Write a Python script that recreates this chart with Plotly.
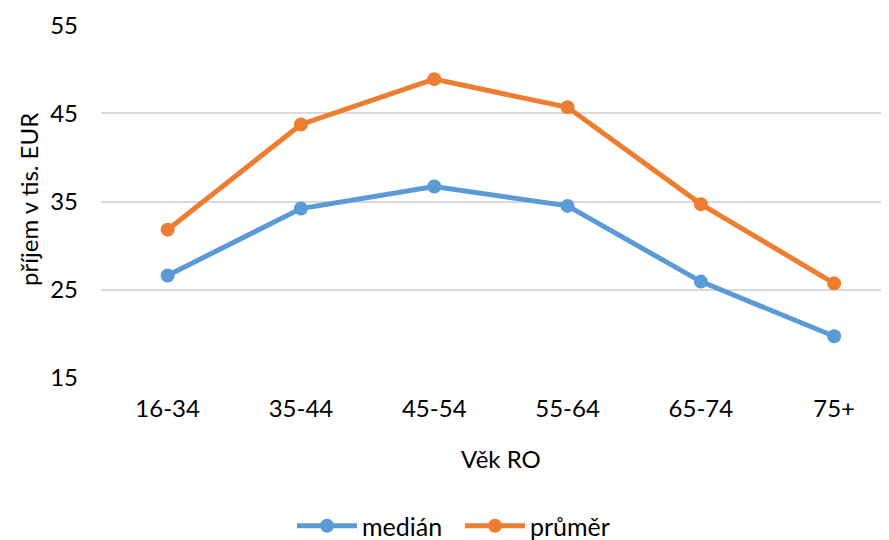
import plotly.graph_objects as go

categories = ["16-34", "35-44", "45-54", "55-64", "65-74", "75+"]
median_vals = [26.6, 34.2, 36.7, 34.5, 25.9, 19.7]
mean_vals = [31.8, 43.75, 48.9, 45.7, 34.7, 25.7]
y_ticks = [15, 25, 35, 45, 55]

FONT = "Lato"
O = 8  # default page body margin offset
W, H = 889 - O, 540 - O
L, T = 101 - O, 17
pw = W - L
ph = 353
B = H - T - ph


def px_x(x):
    return (x - O - L) / pw


def px_y(y):
    return (T + ph - (y - O)) / ph


fig = go.Figure()
fig.add_trace(go.Scatter(x=categories, y=median_vals, name="medián", mode="lines+markers",
                         line=dict(color="#5B9BD5", width=5), marker=dict(size=14, color="#5B9BD5")))
fig.add_trace(go.Scatter(x=categories, y=mean_vals, name="průměr", mode="lines+markers",
                         line=dict(color="#ED7D31", width=5), marker=dict(size=14, color="#ED7D31")))

fig.update_layout(
    width=W, height=H,
    margin=dict(l=L, r=0, t=T, b=B, autoexpand=False),
    plot_bgcolor="white", paper_bgcolor="white",
    font=dict(family=FONT, size=24, color="#000000"),
    showlegend=True,
    legend=dict(orientation="h", x=px_x(460), xanchor="center",
                y=px_y(526), yanchor="middle",
                font=dict(family=FONT, size=25, color="#000000"), itemwidth=60,
                entrywidth=93, bgcolor="rgba(0,0,0,0)"),
    xaxis=dict(type="category", range=[-0.5, -0.5 + pw / 133.3], showgrid=False,
               showline=False, zeroline=False, ticks="", ticklabelstandoff=14, automargin=False,
               tickfont=dict(family=FONT, size=24, color="#000000")),
    yaxis=dict(range=[14.95, 55.05], tickvals=y_ticks, showgrid=True, gridcolor="#D9D9D9",
               gridwidth=1.5, zeroline=False, showline=False, ticks="", ticklabelstandoff=22,
               automargin=False,
               tickfont=dict(family=FONT, size=24, color="#000000")),
)

fig.add_annotation(text="příjem v tis. EUR", textangle=-90, xref="paper", yref="paper",
                   x=px_x(28), y=px_y(200), xanchor="center", yanchor="middle",
                   showarrow=False, font=dict(family=FONT, size=24, color="#000000"))
fig.add_annotation(text="Věk RO", xref="paper", yref="paper",
                   x=px_x(501), y=px_y(458), xanchor="center", yanchor="middle",
                   showarrow=False, font=dict(family=FONT, size=24, color="#000000"))

fig.write_html("out.html")
